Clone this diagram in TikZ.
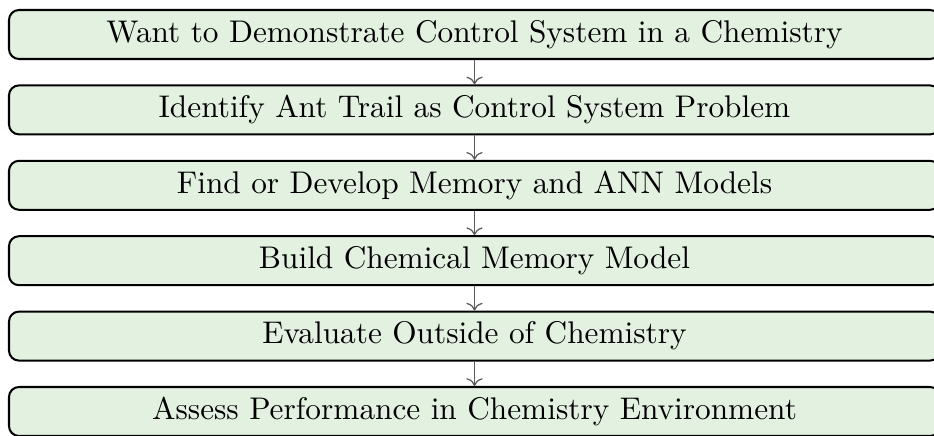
\documentclass[tikz,border=0pt]{standalone}
\usetikzlibrary{arrows.meta}
\definecolor{boxfill}{RGB}{227,241,225}
\definecolor{arrowgray}{RGB}{90,90,90}
\begin{document}
\begin{tikzpicture}[x=0.32pt,y=-0.32pt,
  stepbox/.style={draw=black,line width=0.65pt,fill=boxfill,rounded corners=3.2pt,
    minimum width=931*0.32pt,minimum height=49*0.32pt,inner sep=0pt,anchor=center,font=\fontsize{10.02}{12}\selectfont},
  flow/.style={draw=arrowgray,line width=0.4pt,-To}]
\useasboundingbox (0,0) rectangle (934,436);
\node[stepbox] (s1) at (474.5,34.5) {Want to Demonstrate Control System in a Chemistry};
\node[stepbox] (s2) at (474.5,109.9) {Identify Ant Trail as Control System Problem};
\node[stepbox] (s3) at (474.5,185.3) {Find or Develop Memory and ANN Models};
\node[stepbox] (s4) at (474.5,260.7) {Build Chemical Memory Model};
\node[stepbox] (s5) at (474.5,336.1) {Evaluate Outside of Chemistry};
\node[stepbox] (s6) at (474.5,411.5) {Assess Performance in Chemistry Environment};
\draw[flow] (s1) -- (s2);
\draw[flow] (s2) -- (s3);
\draw[flow] (s3) -- (s4);
\draw[flow] (s4) -- (s5);
\draw[flow] (s5) -- (s6);
\end{tikzpicture}
\end{document}
